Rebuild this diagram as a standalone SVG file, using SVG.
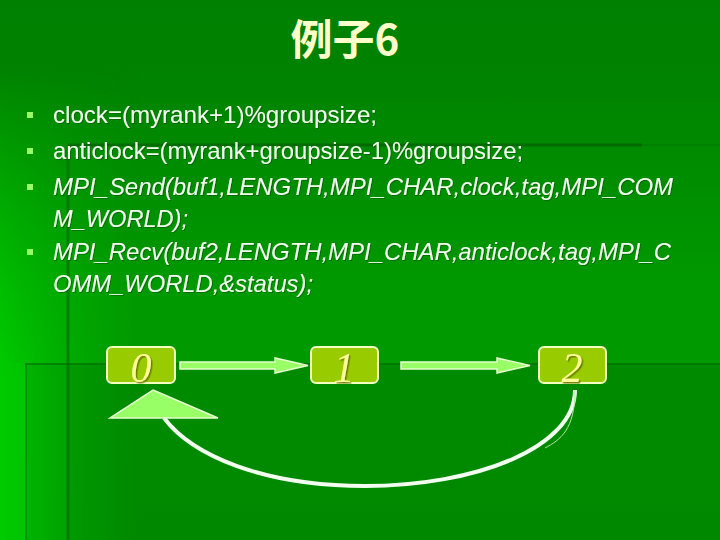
<svg xmlns="http://www.w3.org/2000/svg" width="720" height="540" viewBox="0 0 720 540">
<defs>
<linearGradient id="bgv" x1="0" y1="0" x2="0" y2="1">
<stop offset="0" stop-color="#008000"/>
<stop offset="0.15" stop-color="#008300"/>
<stop offset="0.55" stop-color="#009a00"/>
<stop offset="1" stop-color="#009800"/>
</linearGradient>
<linearGradient id="glow" x1="0" y1="0" x2="1" y2="0">
<stop offset="0" stop-color="#00cc00" stop-opacity="1"/>
<stop offset="0.25" stop-color="#00c400" stop-opacity="0.8"/>
<stop offset="1" stop-color="#00b000" stop-opacity="0"/>
</linearGradient>
<linearGradient id="vmask" x1="0" y1="0" x2="0" y2="1">
<stop offset="0.12" stop-color="#fff" stop-opacity="0"/>
<stop offset="0.7" stop-color="#fff" stop-opacity="1"/>
</linearGradient>
<mask id="m1" maskUnits="userSpaceOnUse" x="0" y="0" width="720" height="540">
<rect x="0" y="0" width="720" height="540" fill="url(#vmask)"/>
</mask>
<filter id="sh" x="-20%" y="-20%" width="140%" height="140%">
<feDropShadow dx="1.5" dy="1.5" stdDeviation="0.3" flood-color="#667700" flood-opacity="0.9"/>
</filter>
<filter id="tsh" x="-5%" y="-20%" width="110%" height="140%">
<feDropShadow dx="1" dy="1" stdDeviation="0.3" flood-color="#005500" flood-opacity="0.6"/>
</filter>
<style>
.body{font-family:"Liberation Sans",Arial,sans-serif;font-size:24px;fill:#f4fff0}
.it{font-style:italic}
.bul{fill:#99ff66}
.node rect{fill:#99cc00;stroke:#f2ffc0;stroke-width:2}
.node text{font-family:"Liberation Serif","Times New Roman",serif;font-style:italic;font-size:42px;fill:#ffff99;text-anchor:middle}
.blk{fill:#99ff66;stroke:#e6ffd0;stroke-width:1.5;stroke-linejoin:miter}
</style>
</defs>
<!-- background -->
<rect x="0" y="0" width="720" height="540" fill="url(#bgv)"/>
<rect x="0" y="0" width="140" height="540" fill="url(#glow)" mask="url(#m1)"/>
<rect x="0" y="363" width="25" height="177" fill="#00c800" opacity="0.6"/>
<rect x="25" y="363" width="695" height="177" fill="#000" opacity="0.06"/>
<rect x="68" y="363" width="652" height="177" fill="#000" opacity="0.04"/>
<line x1="68" y1="145" x2="642" y2="145" stroke="#006400" stroke-width="3" opacity="0.8"/>
<line x1="642" y1="145" x2="720" y2="145" stroke="#007000" stroke-width="2" opacity="0.4"/>
<line x1="68" y1="145" x2="68" y2="540" stroke="#006e00" stroke-width="3" opacity="0.7"/>
<line x1="25" y1="364" x2="720" y2="364" stroke="#007000" stroke-width="2" opacity="0.6"/>
<line x1="26" y1="364" x2="26" y2="540" stroke="#007a00" stroke-width="2" opacity="0.6"/>

<!-- title -->
<text x="345" y="55" text-anchor="middle" font-family="'Noto Sans CJK SC','Noto Sans CJK JP',sans-serif" font-weight="bold" font-size="42" fill="#ffffcc">例子6</text>

<!-- bullets -->
<g id="bullets">
<rect class="bul" x="27" y="112" width="6" height="6"/>
<rect class="bul" x="27" y="148" width="6" height="6"/>
<rect class="bul" x="27" y="184" width="6" height="6"/>
<rect class="bul" x="27" y="249" width="6" height="6"/>
</g>
<g id="code" class="body" filter="url(#tsh)">
<text x="53" y="123" textLength="324" lengthAdjust="spacingAndGlyphs">clock=(myrank+1)%groupsize;</text>
<text x="53" y="159" textLength="470" lengthAdjust="spacingAndGlyphs">anticlock=(myrank+groupsize-1)%groupsize;</text>
<text class="it" x="53" y="195" textLength="620" lengthAdjust="spacingAndGlyphs">MPI_Send(buf1,LENGTH,MPI_CHAR,clock,tag,MPI_COM</text>
<text class="it" x="53" y="227" textLength="135" lengthAdjust="spacingAndGlyphs">M_WORLD);</text>
<text class="it" x="53" y="260" textLength="618" lengthAdjust="spacingAndGlyphs">MPI_Recv(buf2,LENGTH,MPI_CHAR,anticlock,tag,MPI_C</text>
<text class="it" x="53" y="292" textLength="260" lengthAdjust="spacingAndGlyphs">OMM_WORLD,&amp;status);</text>
</g>

<!-- connectors -->
<g id="connectors">
<polygon class="blk" points="180,362 275,362 275,358 308,365.5 275,373 275,369 180,369"/>
<polygon class="blk" points="401,362 497,362 497,358 530,365.5 497,373 497,369 401,369"/>
<path d="M575,390 C575,448 475,486 365,486 C262,486 192,455 164,418" fill="none" stroke="#f2fff0" stroke-width="4"/>
<path d="M575,390 C575,430 560,440 545,448" fill="none" stroke="#aee8a0" stroke-width="1"/>
<polygon class="blk" points="153,390 218,418 110,418"/>
</g>

<!-- nodes -->
<g id="node0" class="node">
<rect x="107" y="347" width="68" height="36" rx="5"/>
<text x="141" y="382" filter="url(#sh)">0</text>
</g>
<g id="node1" class="node">
<rect x="311" y="347" width="67" height="36" rx="5"/>
<text x="344" y="382" filter="url(#sh)">1</text>
</g>
<g id="node2" class="node">
<rect x="539" y="347" width="67" height="36" rx="5"/>
<text x="572" y="382" filter="url(#sh)">2</text>
</g>
</svg>
